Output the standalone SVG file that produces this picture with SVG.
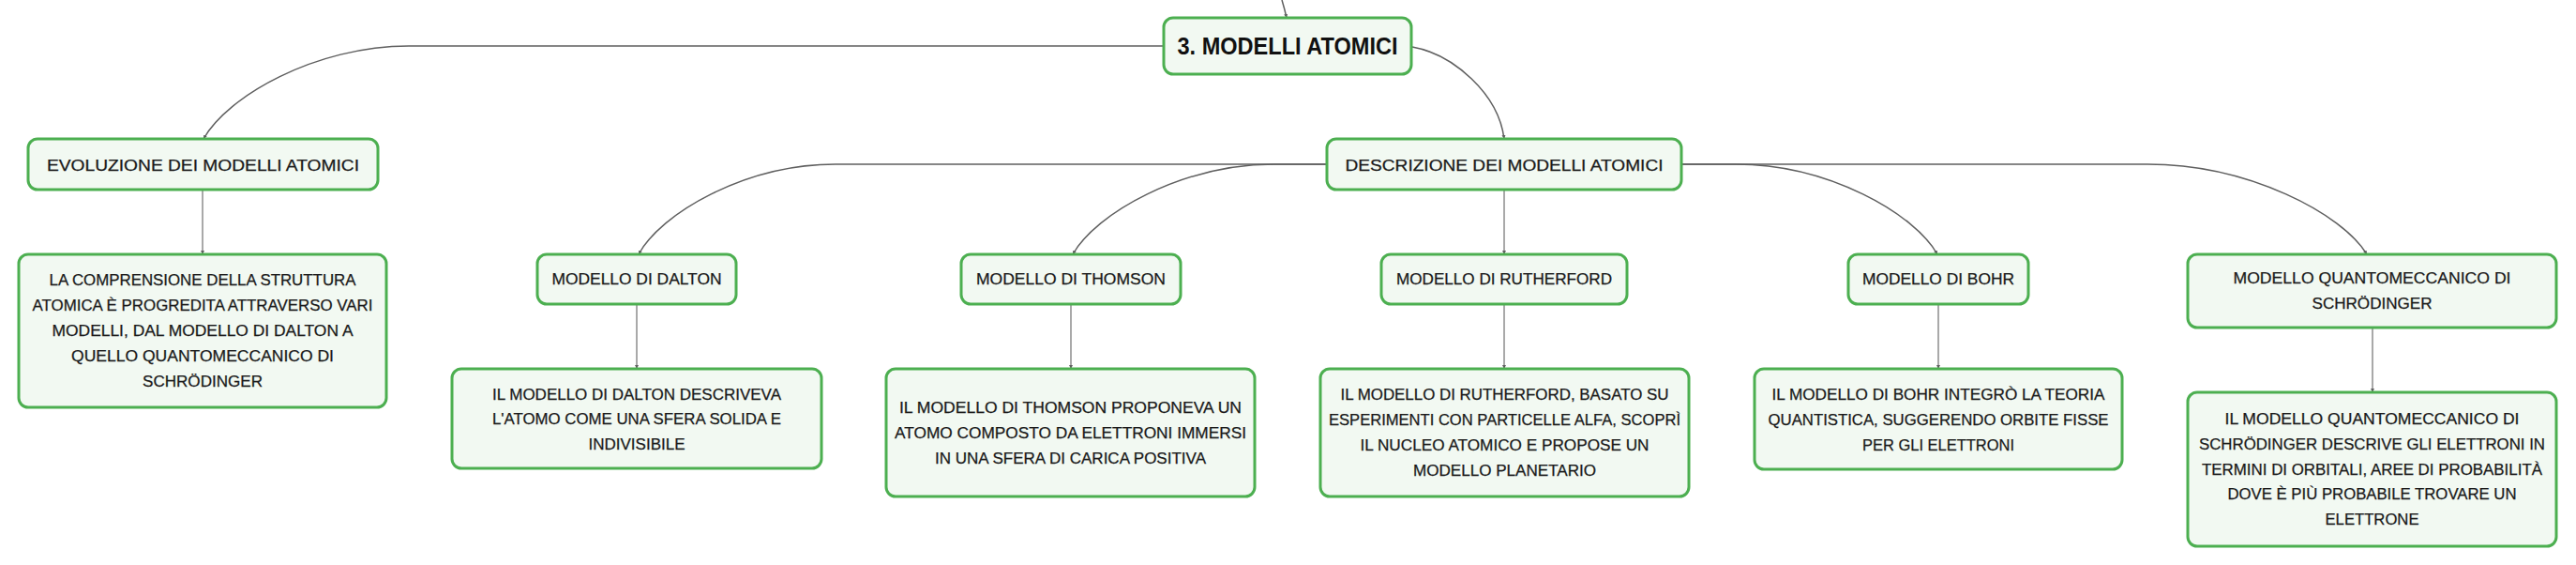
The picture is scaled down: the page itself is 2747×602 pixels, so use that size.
<svg xmlns="http://www.w3.org/2000/svg" width="2747" height="602" viewBox="0 0 2747 602">
<style>
.box{fill:#F2F9F2;stroke:#4CAF50;stroke-width:3}
.t{font-family:"Liberation Sans",Arial,sans-serif;font-size:16px;fill:#1a1a1a;stroke:#1a1a1a;stroke-width:0.25;text-anchor:middle}
.root{font-family:"Liberation Sans",Arial,sans-serif;font-size:25px;font-weight:bold;fill:#111;text-anchor:middle}
.c{fill:none;stroke:#5f5f5f;stroke-width:1.5;marker-end:url(#tip)}
.v{fill:none;stroke:#707070;stroke-width:1.2;marker-end:url(#tip)}
</style>
<defs>
<marker id="tip" markerUnits="userSpaceOnUse" markerWidth="5" markerHeight="5" refX="4" refY="2.5" orient="auto">
<path d="M0,0.5 L4,2.5 L0,4.5 z" fill="#5f5f5f"/>
</marker>
</defs>
<rect width="2747" height="602" fill="#ffffff"/>
<g id="connectors">
<path class="c" d="M1367,0 Q1370,10 1372,19"/>
<path class="c" d="M1241,49 L436,49 C336,49 242,103 217,148"/>
<path class="c" d="M1506,50 C1550,58 1598,100 1604,148"/>
<path class="c" d="M1415,175 L891,175 C794,175 704,228 681,271"/>
<path class="c" d="M1415,175 L1359,175 C1260,175 1168,228 1144,271"/>
<path class="v" d="M1604,202 L1604,271"/>
<path class="c" d="M1793,175 L1851,175 C1950,175 2042,228 2066,271"/>
<path class="c" d="M1793,175 L2290,175 C2398,175 2498,228 2524,271"/>
<path class="v" d="M216,202 L216,271"/>
<path class="v" d="M679,324 L679,393"/>
<path class="v" d="M1142,324 L1142,393"/>
<path class="v" d="M1604,324 L1604,393"/>
<path class="v" d="M2067,324 L2067,393"/>
<path class="v" d="M2530,349 L2530,418"/>
</g>
<g id="root">
<rect class="box" x="1241" y="19" width="264" height="60" rx="10"/>
<text class="root" x="1373" y="58" textLength="235" lengthAdjust="spacingAndGlyphs">3. MODELLI ATOMICI</text>
</g>
<g id="evoluzione">
<rect class="box" x="30" y="148" width="373" height="54" rx="10"/>
<text class="t" x="216.5" y="181.5" textLength="333" lengthAdjust="spacingAndGlyphs">EVOLUZIONE DEI MODELLI ATOMICI</text>
</g>
<g id="evoluzione-desc">
<rect class="box" x="20" y="271" width="392" height="163" rx="10"/>
<text class="t" x="216" y="304" textLength="327" lengthAdjust="spacingAndGlyphs">LA COMPRENSIONE DELLA STRUTTURA</text>
<text class="t" x="216" y="331" textLength="363" lengthAdjust="spacingAndGlyphs">ATOMICA È PROGREDITA ATTRAVERSO VARI</text>
<text class="t" x="216" y="358" textLength="321" lengthAdjust="spacingAndGlyphs">MODELLI, DAL MODELLO DI DALTON A</text>
<text class="t" x="216" y="385" textLength="280" lengthAdjust="spacingAndGlyphs">QUELLO QUANTOMECCANICO DI</text>
<text class="t" x="216" y="412" textLength="128" lengthAdjust="spacingAndGlyphs">SCHRÖDINGER</text>
</g>
<g id="descrizione">
<rect class="box" x="1415" y="148" width="378" height="54" rx="10"/>
<text class="t" x="1604" y="181.5" textLength="339" lengthAdjust="spacingAndGlyphs">DESCRIZIONE DEI MODELLI ATOMICI</text>
</g>
<g id="dalton">
<rect class="box" x="573" y="271" width="212" height="53" rx="10"/>
<text class="t" x="679" y="303" textLength="181" lengthAdjust="spacingAndGlyphs">MODELLO DI DALTON</text>
</g>
<g id="dalton-desc">
<rect class="box" x="482" y="393" width="394" height="106" rx="10"/>
<text class="t" x="679" y="425.5" textLength="308" lengthAdjust="spacingAndGlyphs">IL MODELLO DI DALTON DESCRIVEVA</text>
<text class="t" x="679" y="452" textLength="308" lengthAdjust="spacingAndGlyphs">L'ATOMO COME UNA SFERA SOLIDA E</text>
<text class="t" x="679" y="479" textLength="103" lengthAdjust="spacingAndGlyphs">INDIVISIBILE</text>
</g>
<g id="thomson">
<rect class="box" x="1025" y="271" width="234" height="53" rx="10"/>
<text class="t" x="1142" y="303" textLength="202" lengthAdjust="spacingAndGlyphs">MODELLO DI THOMSON</text>
</g>
<g id="thomson-desc">
<rect class="box" x="945" y="393" width="393" height="136" rx="10"/>
<text class="t" x="1141.5" y="440" textLength="365" lengthAdjust="spacingAndGlyphs">IL MODELLO DI THOMSON PROPONEVA UN</text>
<text class="t" x="1141.5" y="467" textLength="375" lengthAdjust="spacingAndGlyphs">ATOMO COMPOSTO DA ELETTRONI IMMERSI</text>
<text class="t" x="1141.5" y="494" textLength="289" lengthAdjust="spacingAndGlyphs">IN UNA SFERA DI CARICA POSITIVA</text>
</g>
<g id="rutherford">
<rect class="box" x="1473" y="271" width="262" height="53" rx="10"/>
<text class="t" x="1604" y="303" textLength="230" lengthAdjust="spacingAndGlyphs">MODELLO DI RUTHERFORD</text>
</g>
<g id="rutherford-desc">
<rect class="box" x="1408" y="393" width="393" height="136" rx="10"/>
<text class="t" x="1604.5" y="426" textLength="350" lengthAdjust="spacingAndGlyphs">IL MODELLO DI RUTHERFORD, BASATO SU</text>
<text class="t" x="1604.5" y="453" textLength="375" lengthAdjust="spacingAndGlyphs">ESPERIMENTI CON PARTICELLE ALFA, SCOPRÌ</text>
<text class="t" x="1604.5" y="480" textLength="308" lengthAdjust="spacingAndGlyphs">IL NUCLEO ATOMICO E PROPOSE UN</text>
<text class="t" x="1604.5" y="507" textLength="195" lengthAdjust="spacingAndGlyphs">MODELLO PLANETARIO</text>
</g>
<g id="bohr">
<rect class="box" x="1971" y="271" width="192" height="53" rx="10"/>
<text class="t" x="2067" y="303" textLength="162" lengthAdjust="spacingAndGlyphs">MODELLO DI BOHR</text>
</g>
<g id="bohr-desc">
<rect class="box" x="1871" y="393" width="392" height="107" rx="10"/>
<text class="t" x="2067" y="425.5" textLength="355" lengthAdjust="spacingAndGlyphs">IL MODELLO DI BOHR INTEGRÒ LA TEORIA</text>
<text class="t" x="2067" y="452.5" textLength="363" lengthAdjust="spacingAndGlyphs">QUANTISTICA, SUGGERENDO ORBITE FISSE</text>
<text class="t" x="2067" y="479.5" textLength="162" lengthAdjust="spacingAndGlyphs">PER GLI ELETTRONI</text>
</g>
<g id="quantomeccanico">
<rect class="box" x="2333" y="271" width="393" height="78" rx="10"/>
<text class="t" x="2529.5" y="302" textLength="296" lengthAdjust="spacingAndGlyphs">MODELLO QUANTOMECCANICO DI</text>
<text class="t" x="2529.5" y="329" textLength="128" lengthAdjust="spacingAndGlyphs">SCHRÖDINGER</text>
</g>
<g id="quantomeccanico-desc">
<rect class="box" x="2333" y="418" width="393" height="164" rx="10"/>
<text class="t" x="2529.5" y="452" textLength="314" lengthAdjust="spacingAndGlyphs">IL MODELLO QUANTOMECCANICO DI</text>
<text class="t" x="2529.5" y="479" textLength="369" lengthAdjust="spacingAndGlyphs">SCHRÖDINGER DESCRIVE GLI ELETTRONI IN</text>
<text class="t" x="2529.5" y="505.5" textLength="363" lengthAdjust="spacingAndGlyphs">TERMINI DI ORBITALI, AREE DI PROBABILITÀ</text>
<text class="t" x="2529.5" y="532" textLength="308" lengthAdjust="spacingAndGlyphs">DOVE È PIÙ PROBABILE TROVARE UN</text>
<text class="t" x="2529.5" y="559" textLength="100" lengthAdjust="spacingAndGlyphs">ELETTRONE</text>
</g>
</svg>
